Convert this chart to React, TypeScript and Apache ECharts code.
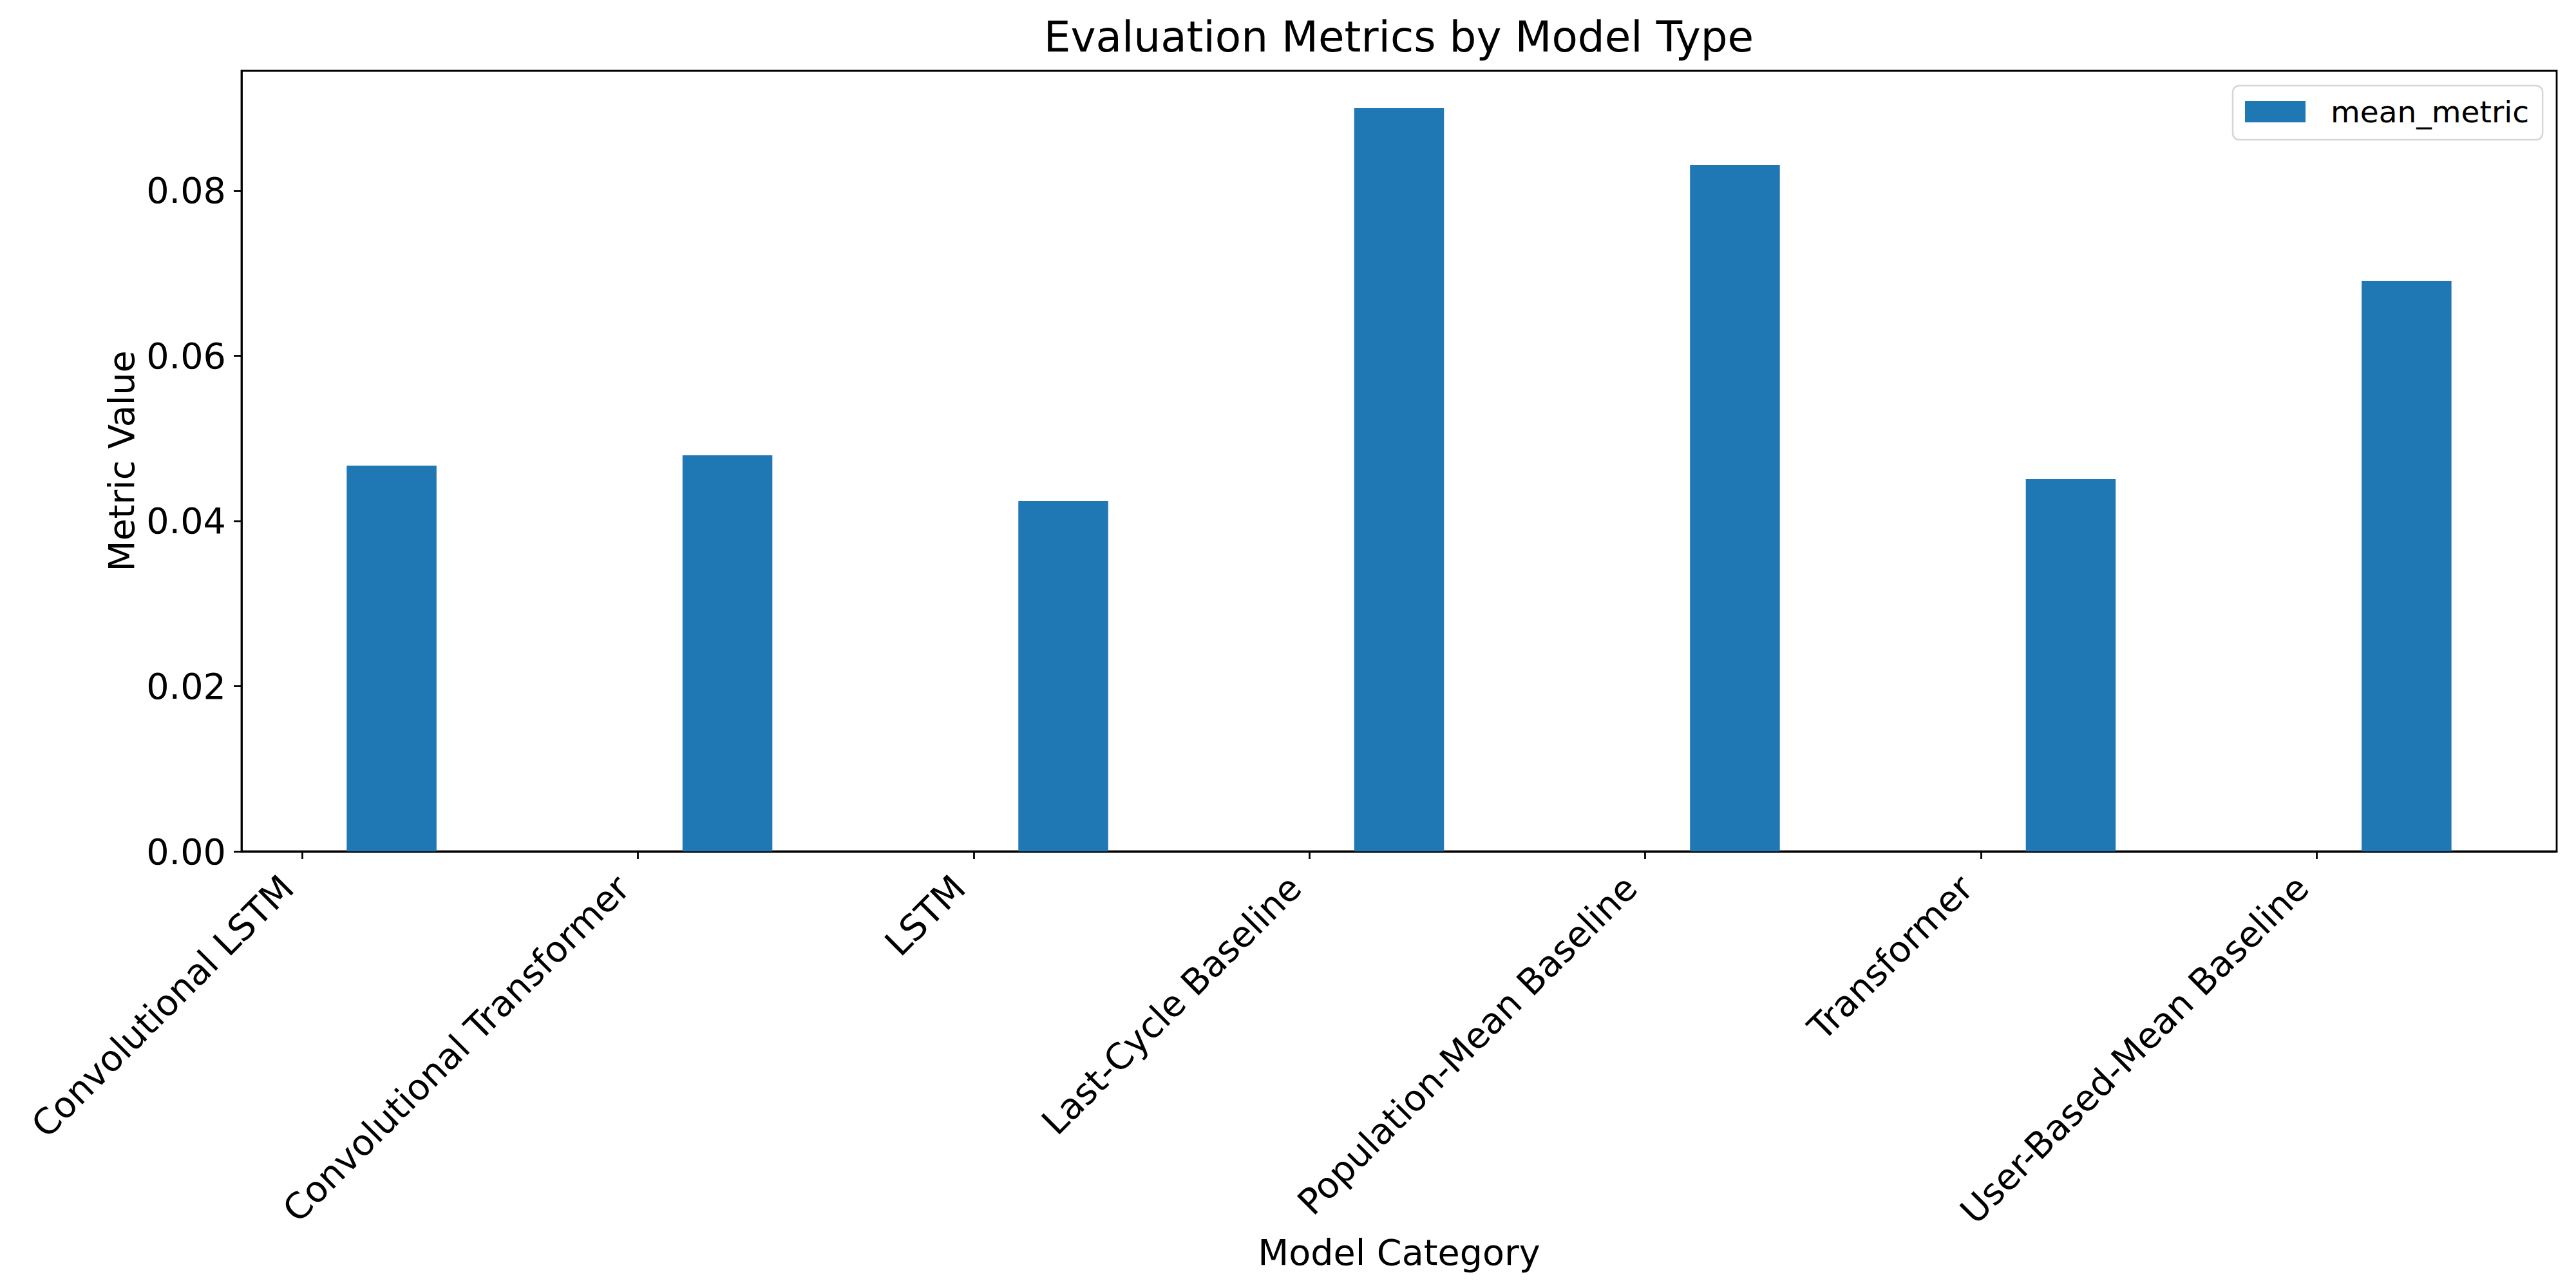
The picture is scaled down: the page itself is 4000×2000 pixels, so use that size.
import React, { useEffect, useRef } from "react";
import * as echarts from "echarts";

const categories = [
  "Convolutional LSTM",
  "Convolutional Transformer",
  "LSTM",
  "Last-Cycle Baseline",
  "Population-Mean Baseline",
  "Transformer",
  "User-Based-Mean Baseline",
];
const meanMetric = [0.0467, 0.04795, 0.04242, 0.08998, 0.08312, 0.04507, 0.06908];
const yTicks = [0, 0.02, 0.04, 0.06, 0.08];
const xTicks = [0, 1, 2, 3, 4, 5, 6];
const seriesName = "mean_metric";

const FONT = "DejaVu Sans";
const BAR_OFFSET = 0.267;
const LABEL_SHIFT = 0.044;

export default function App() {
  const ref = useRef<HTMLDivElement>(null);
  useEffect(() => {
    document.body.style.margin = "0";
    const chart = echarts.init(ref.current!, null, { renderer: "svg" });
    chart.setOption({
      animation: false,
      backgroundColor: "#ffffff",
      title: {
        text: "Evaluation Metrics by Model Type",
        left: 2172,
        top: 24,
        padding: 0,
        textAlign: "center",
        textStyle: { fontFamily: FONT, fontSize: 66, fontWeight: "normal", color: "#000" },
      },
      legend: {
        data: [seriesName],
        left: 3467,
        top: 133,
        orient: "vertical",
        padding: [17, 21, 20, 19],
        itemWidth: 94,
        itemHeight: 33,
        icon: "rect",
        borderColor: "#d6d6d6",
        borderWidth: 2.5,
        borderRadius: 10,
        backgroundColor: "#ffffff",
        textStyle: { fontFamily: FONT, fontSize: 47, color: "#000", padding: [0, 0, 0, 34] },
      },
      grid: {
        left: 375,
        right: 30,
        top: 110,
        bottom: 678,
        show: true,
        borderColor: "#000",
        borderWidth: 2.8,
        backgroundColor: "transparent",
        containLabel: false,
        outerBoundsMode: "none",
      },
      xAxis: {
        type: "value",
        min: -0.18,
        max: 6.714,
        name: "Model Category",
        nameLocation: "middle",
        nameGap: 584,
        nameTextStyle: { fontFamily: FONT, fontSize: 55.6, color: "#000" },
        axisLine: { show: true, onZero: false, lineStyle: { color: "#000", width: 2.8 } },
        axisTick: {
          show: true,
          length: 12,
          customValues: xTicks,
          lineStyle: { color: "#000", width: 2.8 },
        },
        axisLabel: {
          customValues: xTicks.map((t) => t - LABEL_SHIFT),
          formatter: (v: number) => categories[Math.round(v)] ?? "",
          rotate: 45,
          margin: 47,
          fontFamily: FONT,
          fontSize: 55.6,
          color: "#000",
        },
        splitLine: { show: false },
      },
      yAxis: {
        type: "value",
        min: 0,
        max: 0.0945,
        name: "Metric Value",
        nameLocation: "middle",
        nameGap: 158,
        nameTextStyle: { fontFamily: FONT, fontSize: 55.6, color: "#000" },
        axisLine: { show: true, onZero: false, lineStyle: { color: "#000", width: 2.8 } },
        axisTick: {
          show: true,
          length: 12,
          customValues: yTicks,
          lineStyle: { color: "#000", width: 2.8 },
        },
        axisLabel: {
          customValues: yTicks,
          formatter: (v: number) => v.toFixed(2),
          margin: 24,
          fontFamily: FONT,
          fontSize: 55.6,
          color: "#000",
        },
        splitLine: { show: false },
      },
      series: [
        {
          name: seriesName,
          type: "bar",
          barWidth: 139.5,
          itemStyle: { color: "#1f77b4" },
          data: meanMetric.map((v, i) => [i + BAR_OFFSET, v]),
        },
      ],
    });
    return () => chart.dispose();
  }, []);
  return <div ref={ref} style={{ width: 4000, height: 2000 }} />;
}
